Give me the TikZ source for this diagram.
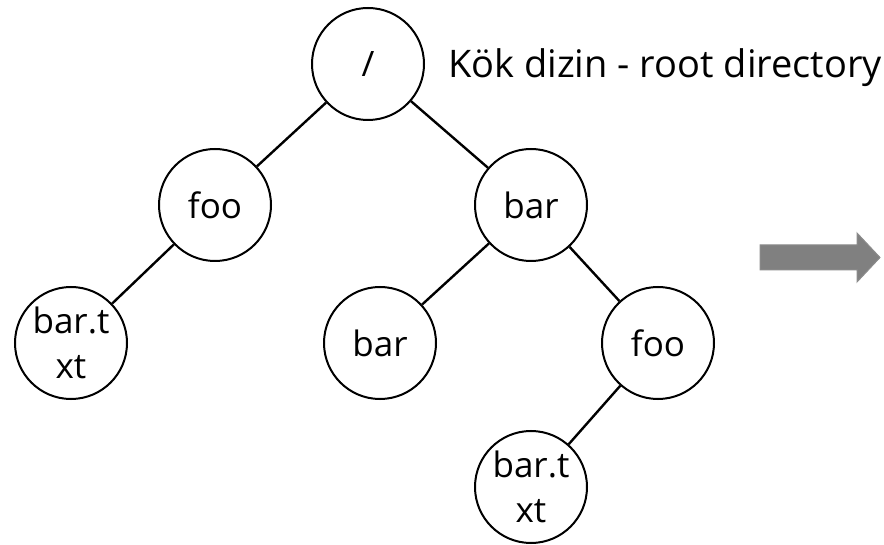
\documentclass[tikz,border=0pt]{standalone}
\usepackage{fontspec}
\setmainfont{Open Sans}
\begin{document}
\begin{tikzpicture}[x=1pt,y=-1pt,
  tnode/.style={circle,draw=black,line width=2pt,minimum size=112pt,inner sep=0pt,
    font=\fontsize{35}{45}\selectfont,align=center},
  tedge/.style={draw=black,line width=2.4pt},
  bigarrow/.style={fill=black!50,draw=black!45,line width=1pt}]
\useasboundingbox (0,0) rectangle (884,545);
\node[tnode] (root) at (368,64) {/};
\node[tnode] (foo1) at (215,205) {foo};
\node[tnode] (bar1) at (531,205) {bar};
\node[tnode] (txt1) at (71,343) {bar.t\\xt};
\node[tnode] (bar2) at (380,343) {bar};
\node[tnode] (foo2) at (658,343) {foo};
\node[tnode] (txt2) at (531,487) {bar.t\\xt};
\node[anchor=base west,inner sep=0pt,font=\fontsize{38}{40}\selectfont] (lbl) at (448,78) {Kök dizin - root directory};
\path[tedge] (root) -- (foo1);
\path[tedge] (root) -- (bar1);
\path[tedge] (foo1) -- (txt1);
\path[tedge] (bar1) -- (bar2);
\path[tedge] (bar1) -- (foo2);
\path[tedge] (foo2) -- (txt2);
\coordinate (a1) at (760,245);
\coordinate (a2) at (857,245);
\coordinate (a3) at (857,233);
\coordinate (a4) at (880,257.5);
\coordinate (a5) at (857,282);
\coordinate (a6) at (857,270);
\coordinate (a7) at (760,270);
\path[bigarrow] (a1) -- (a2) -- (a3) -- (a4) -- (a5) -- (a6) -- (a7) -- cycle;
\end{tikzpicture}
\end{document}
